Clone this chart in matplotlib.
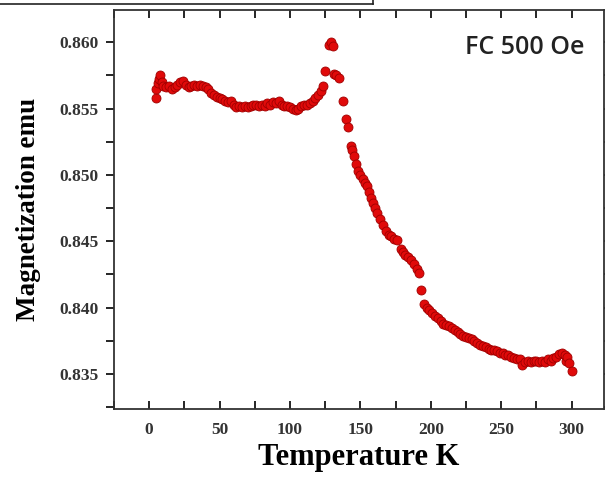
import matplotlib
matplotlib.use("Agg")
import matplotlib.pyplot as plt
from matplotlib.lines import Line2D
from matplotlib.ticker import MultipleLocator

# FC 500 Oe magnetization vs temperature
temp = [4.5, 5, 6, 7, 8, 9, 10, 12, 14, 16, 18, 20, 22, 24, 26, 28, 30, 32, 34, 36,
        38, 40, 42, 44, 46, 48, 50, 52, 54, 56, 58, 60, 62, 64, 66, 68, 70, 72, 74, 76,
        78, 80, 82, 84, 86, 88, 90, 92, 94, 96, 98, 100, 102, 104, 106, 108, 110, 112, 114, 116,
        118, 120, 122, 123.5, 125, 127.5, 129, 130.5, 131, 133, 134.5, 137.5, 139.5, 141, 143, 144, 145.5, 147, 148.5, 150,
        151.5, 153, 154.5, 156, 157.5, 159, 160.5, 162, 164, 166, 168, 170, 172, 174, 176, 178.5, 180, 182, 184, 186,
        188, 190, 191.5, 193, 195, 197, 199, 201, 203, 205, 207, 209, 211, 213, 215, 217, 219, 221, 223, 225,
        227, 229, 231, 233, 235, 237, 239, 241, 243, 245, 247, 249, 251, 253, 255, 257, 259, 261, 263, 265,
        267, 269, 271, 273, 275, 277, 279, 281, 283, 285, 287, 289, 291, 293, 295, 296, 297, 298, 300]
mag = [0.8558, 0.8565, 0.8569, 0.8572, 0.8575, 0.8570, 0.8567, 0.8566, 0.8567, 0.8565,
       0.8566, 0.8568, 0.8570, 0.8571, 0.8568, 0.8566, 0.8567, 0.8568, 0.8567, 0.8568,
       0.8567, 0.8566, 0.8565, 0.8562, 0.8560, 0.8559, 0.8558, 0.8557, 0.8556, 0.8555,
       0.8556, 0.8553, 0.8551, 0.8552, 0.8551, 0.8552, 0.8551, 0.8552, 0.8553, 0.8553,
       0.8552, 0.8553, 0.8552, 0.8554, 0.8553, 0.8555, 0.8554, 0.8556, 0.8553, 0.8552,
       0.8552, 0.8551, 0.8550, 0.8549, 0.8550, 0.8552, 0.8553, 0.8553, 0.8554, 0.8556,
       0.8558, 0.8560, 0.8563, 0.8567, 0.8578, 0.8598, 0.8600, 0.8597, 0.8576, 0.8575,
       0.8573, 0.8556, 0.8542, 0.8536, 0.8522, 0.8519, 0.8514, 0.8508, 0.8503, 0.8500,
       0.8497, 0.8494, 0.8492, 0.8487, 0.8483, 0.8479, 0.8475, 0.8471, 0.8467, 0.8462,
       0.8458, 0.8455, 0.8454, 0.8452, 0.8451, 0.8444, 0.8442, 0.8440, 0.8438, 0.8436,
       0.8433, 0.8429, 0.8426, 0.8413, 0.8403, 0.8400, 0.8398, 0.8396, 0.8394, 0.8392,
       0.8390, 0.8388, 0.8387, 0.8386, 0.8385, 0.8383, 0.8382, 0.8380, 0.8379, 0.8378,
       0.8377, 0.8376, 0.8375, 0.8373, 0.8372, 0.8371, 0.8370, 0.8369, 0.8368, 0.8368,
       0.8367, 0.8366, 0.8366, 0.8364, 0.8364, 0.8363, 0.8362, 0.8361, 0.8361, 0.8357,
       0.8359, 0.8360, 0.8359, 0.8360, 0.8360, 0.8359, 0.8360, 0.8359, 0.8361, 0.8360,
       0.8362, 0.8363, 0.8365, 0.8366, 0.8364, 0.8360, 0.8363, 0.8358, 0.8352]

x_ticks = [0, 50, 100, 150, 200, 250, 300]
y_ticks = [0.835, 0.840, 0.845, 0.850, 0.855, 0.860]

fig = plt.figure(figsize=(6.05, 4.79), dpi=100)
ax = fig.add_axes([0.1884, 0.1461, 0.81, 0.833])

ax.scatter(temp, mag, s=42, color="#e00a0a", edgecolors="#a00000", linewidths=0.6, zorder=3)

ax.set_xlim(-25, 323)
ax.set_ylim(0.83236, 0.86243)
ax.set_xticks(x_ticks)
ax.set_yticks(y_ticks)
ax.set_yticklabels([f"{v:.3f}" for v in y_ticks])
ax.xaxis.set_minor_locator(MultipleLocator(25))
ax.yaxis.set_minor_locator(MultipleLocator(0.0025))

serif = ["Liberation Serif", "DejaVu Serif"]
for lab in ax.get_xticklabels() + ax.get_yticklabels():
    lab.set_fontfamily(serif)
    lab.set_fontweight("bold")
    lab.set_fontsize(12.5)
    lab.set_color("#333333")

ax.tick_params(axis="x", which="both", direction="in", top=True, length=6, width=1.2, pad=9)
ax.tick_params(axis="y", which="both", direction="out", length=6, width=1.2, pad=5)
ax.tick_params(axis="y", which="both", right=True)
for sp in ax.spines.values():
    sp.set_linewidth(1.3)
    sp.set_color("#333333")

ax.set_xlabel("Temperature K", fontfamily=serif, fontweight="bold", fontsize=22, labelpad=4)
ax.set_ylabel("Magnetization emu", fontfamily=serif, fontweight="bold", fontsize=19.5, labelpad=13)

ax.text(0.96, 0.905, "FC 500 Oe", transform=ax.transAxes, ha="right", va="center",
        fontfamily=["Open Sans", "DejaVu Sans"], fontsize=18, fontweight="semibold", color="#222222")

# stray box edge along the top of the picture
fig.add_artist(Line2D([0, 373 / 605], [1 - 3.5 / 479, 1 - 3.5 / 479], color="#222222", lw=1.2))
fig.add_artist(Line2D([373 / 605, 373 / 605], [1, 1 - 3.5 / 479], color="#222222", lw=1.2))

fig.savefig("out.png", dpi=100)
